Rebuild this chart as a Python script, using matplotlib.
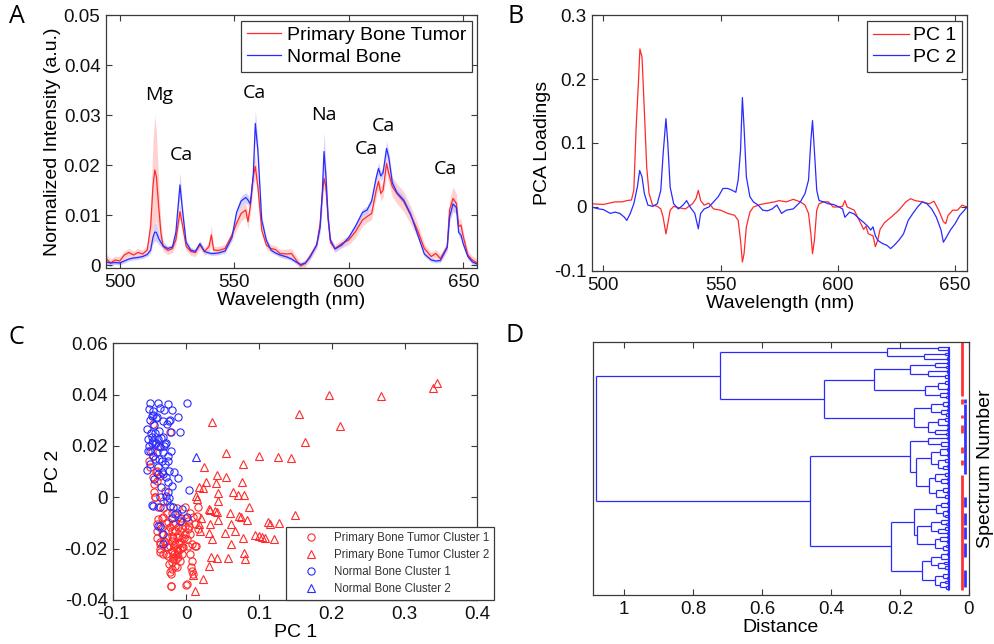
import numpy as np
import matplotlib
matplotlib.use('Agg')
import matplotlib.pyplot as plt
from matplotlib.collections import LineCollection

plt.rcParams['font.family'] = ['Liberation Sans', 'DejaVu Sans']

# ---------------- Panel A data: mean spectra and std ----------------
wavelength = [494, 496, 498, 500, 502, 504, 506, 508, 510, 512,
              513.5, 514.5, 515.3, 516, 517, 518, 519, 521, 523, 524.5,
              526.3, 527.5, 529, 531, 533, 535, 537, 539, 540, 541,
              543, 546, 549, 551, 553, 555, 556, 557, 558.3, 559.2,
              560.3, 562, 564, 566, 568, 570, 573, 575, 577, 579,
              581, 583, 586, 587.5, 588.5, 589.2, 590, 591, 592, 594,
              597, 600, 603, 606, 608, 610, 612, 613, 614, 615,
              616.5, 617.5, 619, 621, 624, 627, 630, 633, 636, 638,
              640, 643, 644, 645.5, 647, 648, 649, 650, 652, 654, 656]

normal_mean = [0.0006, 0.0004, 0.0005, 0.0004, 0.0008, 0.0012, 0.0014, 0.0015, 0.0017, 0.0021,
               0.003, 0.0055, 0.0066, 0.0065, 0.0053, 0.0045, 0.0038, 0.0033, 0.0036, 0.0065,
               0.016, 0.0105, 0.0045, 0.003, 0.0027, 0.0043, 0.0027, 0.0024, 0.0023, 0.0023,
               0.0024, 0.0028, 0.0055, 0.0105, 0.0128, 0.0135, 0.013, 0.0122, 0.018, 0.0283,
               0.023, 0.009, 0.005, 0.003, 0.0024, 0.002, 0.0016, 0.0012, 0.0006, 0.0001,
               0.0004, 0.0015, 0.004, 0.0075, 0.015, 0.0227, 0.018, 0.0095, 0.005, 0.0032,
               0.004, 0.0055, 0.0078, 0.0105, 0.011, 0.0128, 0.0175, 0.0193, 0.0178, 0.0185,
               0.0233, 0.0215, 0.0165, 0.0145, 0.013, 0.0102, 0.0062, 0.0022, 0.001, 0.0008,
               0.0009, 0.0035, 0.0095, 0.0122, 0.0115, 0.0065, 0.006, 0.0042, 0.0017, 0.0006, 0.0002]

tumor_mean = [0.0013, 0.0004, 0.001, 0.0008, 0.002, 0.0025, 0.002, 0.0025, 0.0022, 0.003,
              0.0077, 0.0157, 0.019, 0.0177, 0.0117, 0.0063, 0.0037, 0.0029, 0.0033, 0.005,
              0.0107, 0.0077, 0.0037, 0.0027, 0.0025, 0.004, 0.0027, 0.0037, 0.006, 0.003,
              0.0029, 0.0033, 0.006, 0.0083, 0.0103, 0.011, 0.0087, 0.0117, 0.0177, 0.0197,
              0.0157, 0.007, 0.004, 0.0033, 0.0031, 0.0023, 0.0022, 0.0023, 0.001, -0.0002,
              0.0003, 0.0017, 0.004, 0.0083, 0.0143, 0.0173, 0.0157, 0.009, 0.0045, 0.0033,
              0.0043, 0.005, 0.0067, 0.009, 0.0097, 0.0103, 0.015, 0.0167, 0.0143, 0.015,
              0.0203, 0.0183, 0.0157, 0.0143, 0.0127, 0.01, 0.007, 0.0033, 0.0017, 0.0023,
              0.0013, 0.0037, 0.011, 0.0133, 0.0123, 0.0077, 0.008, 0.0057, 0.002, 0.001, 0.0004]

tumor_std = [0.001, 0.0008, 0.0008, 0.0008, 0.0008, 0.0008, 0.0008, 0.0008, 0.0008, 0.0008,
             0.004, 0.009, 0.011, 0.009, 0.005, 0.002, 0.001, 0.0008, 0.0008, 0.001,
             0.0015, 0.001, 0.0008, 0.0008, 0.0008, 0.0008, 0.0008, 0.001, 0.002, 0.0008,
             0.0008, 0.0008, 0.001, 0.0012, 0.0015, 0.0015, 0.0015, 0.0015, 0.002, 0.0025,
             0.002, 0.001, 0.0008, 0.0008, 0.0008, 0.0008, 0.001, 0.001, 0.0008, 0.0008,
             0.0008, 0.0008, 0.0008, 0.001, 0.0015, 0.002, 0.0015, 0.001, 0.0008, 0.0008,
             0.0008, 0.001, 0.0012, 0.0012, 0.0012, 0.0012, 0.0015, 0.0015, 0.0015, 0.0015,
             0.002, 0.002, 0.002, 0.002, 0.002, 0.0018, 0.0015, 0.001, 0.0008, 0.0008,
             0.0008, 0.001, 0.002, 0.0023, 0.002, 0.0015, 0.0012, 0.001, 0.0008, 0.0008, 0.0008]

normal_std = [0.0004, 0.0004, 0.0004, 0.0004, 0.0004, 0.0004, 0.0004, 0.0004, 0.0004, 0.0004,
              0.0006, 0.0012, 0.0018, 0.0018, 0.0012, 0.0008, 0.0006, 0.0005, 0.0005, 0.0008,
              0.0025, 0.0012, 0.0006, 0.0005, 0.0004, 0.0005, 0.0004, 0.0004, 0.0004, 0.0004,
              0.0004, 0.0004, 0.0006, 0.0008, 0.001, 0.001, 0.001, 0.001, 0.0015, 0.0027,
              0.002, 0.0008, 0.0005, 0.0004, 0.0004, 0.0004, 0.0004, 0.0004, 0.0004, 0.0004,
              0.0004, 0.0004, 0.0005, 0.001, 0.003, 0.004, 0.002, 0.001, 0.0006, 0.0005,
              0.0005, 0.0005, 0.0006, 0.0007, 0.0008, 0.0008, 0.001, 0.0012, 0.001, 0.001,
              0.0015, 0.0012, 0.001, 0.0008, 0.0008, 0.0008, 0.0006, 0.0005, 0.0004, 0.0004,
              0.0004, 0.0005, 0.001, 0.0015, 0.0012, 0.0008, 0.0008, 0.0006, 0.0005, 0.0004, 0.0004]

peak_labels = ['Mg', 'Ca', 'Ca', 'Na', 'Ca', 'Ca', 'Ca']
peak_label_x = [517.2, 527.1, 558.8, 589.0, 607.5, 614.9, 642.0]
peak_label_y = [0.0339, 0.0219, 0.0343, 0.0300, 0.0231, 0.0278, 0.0191]

# ---------------- Panel B data: PCA loadings ----------------
pc1_wl = [495, 500, 505, 508, 510, 512, 513, 514, 515, 515.6, 516.5, 517.5, 518.5, 519.5, 521,
          523, 524.5, 525.5, 526.7, 527.5, 528.5, 530, 532, 535, 538, 539.5, 540.5, 541.5, 543,
          545, 547, 550, 553, 556, 557.5, 558.5, 559.3, 560, 561, 562.5, 564, 567, 570, 573,
          575, 578, 581, 584, 586, 587.5, 588.5, 589.2, 590, 591, 592, 594, 596, 598, 600,
          602, 603, 604, 607, 609, 611, 612, 613, 615, 616, 617, 618, 620, 623, 626, 629,
          631, 633, 636, 639, 641, 643, 645, 646, 647, 649, 651, 653, 655]
pc1 = [0.005, 0.004, 0.008, 0.008, 0.010, 0.011, 0.026, 0.125, 0.197, 0.247, 0.234, 0.15, 0.062, 0.021, 0.003,
       0.001, -0.003, -0.016, -0.042, -0.026, -0.005, 0.001, -0.001, -0.003, 0.005, 0.013, 0.026, 0.010, 0.003,
       0.006, -0.003, -0.005, -0.010, -0.013, -0.021, -0.052, -0.086, -0.073, -0.031, -0.008, 0.0, 0.004, 0.006, 0.008,
       0.010, 0.008, 0.012, 0.008, 0.003, -0.010, -0.042, -0.073, -0.052, -0.005, 0.005, 0.008, 0.008, 0.0, 0.0,
       0.001, 0.010, 0.0, -0.005, -0.020, -0.035, -0.030, -0.042, -0.045, -0.062, -0.052, -0.035, -0.024, -0.015, -0.005, 0.008,
       0.013, 0.010, 0.008, 0.005, 0.009, -0.005, -0.023, -0.026, -0.013, -0.005, -0.005, 0.003, 0.0]

pc2_wl = [495, 498, 500, 503, 505, 507, 509, 510, 511.5, 513, 514.5, 515.5, 516.5, 517.5, 519,
          521, 523, 524.5, 525.5, 526.7, 527.5, 528.5, 530, 532, 534, 535.5, 537, 539, 540.5,
          541.5, 543, 545, 547, 549, 551, 553, 555, 556.5, 557.5, 558.5, 559.3, 560, 561, 562.5,
          564, 566, 568, 570, 572, 574, 576, 578, 581, 584, 586, 587.5, 588.5, 589.2, 590, 591,
          592, 594, 596, 598, 600, 602, 603, 605, 607, 609, 611, 613, 614, 615, 616, 617, 619,
          621, 622.5, 624, 626, 628, 630, 632, 634, 636, 638, 640, 642, 644, 645, 646, 648, 650,
          652, 654, 655]
pc2 = [0.0, -0.003, -0.004, -0.010, -0.008, -0.010, -0.016, -0.021, -0.010, 0.005, 0.031, 0.057, 0.047, 0.021, 0.003,
       0.001, 0.005, 0.026, 0.083, 0.138, 0.099, 0.031, 0.005, -0.003, 0.003, 0.010, 0.0, -0.010, -0.034,
       -0.010, -0.003, 0.0, 0.008, 0.016, 0.029, 0.029, 0.026, 0.023, 0.042, 0.088, 0.171, 0.125, 0.047, 0.016,
       0.008, 0.003, -0.005, -0.006, -0.003, 0.003, -0.010, -0.005, -0.003, 0.008, 0.021, 0.042, 0.104, 0.135, 0.088, 0.026,
       0.010, 0.008, 0.005, 0.004, 0.001, -0.003, -0.016, -0.008, -0.011, -0.018, -0.024, -0.031, -0.036, -0.031, -0.045, -0.052, -0.057,
       -0.060, -0.065, -0.060, -0.052, -0.042, -0.021, -0.010, 0.0, 0.008, 0.005, -0.003, -0.016, -0.036, -0.055, -0.049, -0.036, -0.026,
       -0.013, -0.005, 0.0]

# ---------------- Panel C data: PCA scores ----------------
tumor_c1_pc1 = [-0.0450, -0.0220, -0.0473, -0.0505, -0.0459, -0.0404, -0.0358, -0.0427, -0.0289, -0.0381,
                -0.0312, -0.0243, -0.0174, -0.0106, -0.0060, -0.0014, 0.0032, -0.0404, -0.0335, -0.0266,
                -0.0197, -0.0151, -0.0129, -0.0083, -0.0037, 0.0055, 0.0078, 0.0124, -0.0358, -0.0312,
                -0.0243, -0.0174, -0.0106, -0.0083, -0.0197, -0.0151, 0.0055, 0.0078, -0.0220, -0.0211,
                0.0009, 0.0101, -0.0266, -0.0289, -0.0129, -0.0060, 0.0009, -0.0358, 0.0032, 0.0101,
                0.0147, -0.0381, -0.0014, 0.0170, -0.0106, -0.0197, -0.0243, -0.0106, 0.0078, -0.0358,
                -0.0151, -0.0220, -0.0404, -0.0083, -0.0014, 0.0124, 0.0170, -0.0312, -0.0404, -0.0496,
                -0.0210, -0.0210, 0.0000, 0.0070, 0.0130, -0.0440, -0.0430, -0.0180, -0.0120, -0.0160,
                -0.0100, -0.0200, -0.0060, 0.0000, 0.0050, -0.0280, -0.0330, -0.0200, -0.0140, -0.0050,
                -0.0350, -0.0300, -0.0250, -0.0200, -0.0150, -0.0100, -0.0050, -0.0180, -0.0130, -0.0080,
                -0.0280, -0.0220, -0.0160, -0.0030, 0.0020, -0.0320, -0.0260, -0.0120, -0.0070, 0.0040,
                -0.0400, -0.0360, -0.0240, -0.0190, -0.0420, -0.0460, -0.0380, -0.0440]
tumor_c1_pc2 = [0.0286, 0.0253, 0.0182, 0.0143, 0.0078, 0.0065, 0.0084, 0.0000, 0.0026, -0.0084,
                -0.0078, -0.0097, -0.0104, -0.0117, -0.0097, -0.0110, -0.0123, -0.0130, -0.0143, -0.0156,
                -0.0169, -0.0182, -0.0156, -0.0175, -0.0195, -0.0143, -0.0182, -0.0188, -0.0214, -0.0221,
                -0.0227, -0.0234, -0.0208, -0.0247, -0.0253, -0.0266, -0.0221, -0.0247, -0.0292, -0.0344,
                -0.0338, -0.0299, -0.0195, -0.0175, -0.0221, -0.0195, -0.0162, -0.0175, -0.0094, -0.0078,
                -0.0071, -0.0039, -0.0039, -0.0039, -0.0078, -0.0130, -0.0195, -0.0234, -0.0286, -0.0182,
                -0.0130, -0.0117, -0.0104, -0.0130, -0.0143, -0.0104, -0.0123, -0.0013, 0.0104, 0.0117,
                -0.0345, -0.0300, -0.0340, -0.0270, -0.0190, 0.0052, 0.0000, -0.0160, -0.0200, -0.0190,
                -0.0150, -0.0210, -0.0120, -0.0080, -0.0060, -0.0100, -0.0080, -0.0060, -0.0240, -0.0160,
                -0.0120, -0.0170, -0.0130, -0.0150, -0.0100, -0.0180, -0.0220, -0.0240, -0.0270, -0.0200,
                -0.0220, -0.0190, -0.0220, -0.0160, -0.0190, -0.0040, -0.0060, -0.0040, -0.0080, -0.0110,
                -0.0160, -0.0200, -0.0260, -0.0280, 0.0100, 0.0160, 0.0200, 0.0020]

tumor_c2_pc1 = [0.345, 0.339, 0.268, 0.196, 0.155, 0.212, 0.164, 0.035, 0.055, 0.0995,
                0.126, 0.144, 0.078, 0.024, 0.042, 0.055, 0.027, 0.041, 0.077, 0.018,
                0.023, 0.044, 0.064, 0.071, 0.080, 0.015, 0.031, 0.044, 0.040, 0.043,
                0.060, 0.086, 0.075, 0.084, 0.149, 0.115, 0.128, 0.018, 0.033, 0.044,
                0.061, 0.019, 0.031, 0.054, 0.067, 0.0995, 0.109, 0.121, 0.035, 0.061,
                0.078, 0.080, 0.081, 0.034, 0.042, 0.057, 0.031, 0.009, 0.023, 0.012,
                0.0136, 0.033, 0.073, 0.095, 0.104, 0.112, 0.020]
tumor_c2_pc2 = [0.0445, 0.0427, 0.0393, 0.0400, 0.0325, 0.0276, 0.0215, 0.0295, 0.0172, 0.0160,
                0.0156, 0.0153, 0.0130, 0.0117, 0.0087, 0.0081, 0.0061, 0.0055, 0.0059, 0.0039,
                0.0036, 0.0016, 0.0022, 0.0009, 0.0009, -0.0006, -0.0046, -0.0013, -0.0052, -0.0059,
                -0.0062, -0.0036, -0.0078, -0.0088, -0.0068, -0.0104, -0.0101, -0.0104, -0.0104, -0.0088,
                -0.0104, -0.0133, -0.0140, -0.0140, -0.0133, -0.0151, -0.0159, -0.0164, -0.0164, -0.0180,
                -0.0160, -0.0215, -0.0240, -0.0231, -0.0237, -0.0237, -0.0267, -0.0302, -0.0319, -0.0364,
                0.0005, -0.0050, -0.0072, -0.0145, -0.0155, -0.0097, -0.0080]

normal_c1_pc1 = [-0.0496, -0.0381, -0.0243, 0.0018, -0.0505, -0.0450, -0.0358, -0.0303, -0.0197, -0.0106,
                 -0.0473, -0.0404, -0.0312, -0.0230, -0.0207, -0.0083, -0.0519, -0.0473, -0.0450, -0.0381,
                 -0.0312, -0.0505, -0.0427, -0.0358, -0.0289, -0.0496, -0.0404, -0.0312, -0.0211, -0.0427,
                 -0.0335, -0.0243, -0.0542, -0.0381, -0.0335, -0.0312, -0.0230, -0.0106, -0.0243, -0.0197,
                 0.0046, -0.0358, -0.0275, -0.0230, -0.0450, -0.0358, -0.0174, -0.0060, 0.0009, -0.0083,
                 -0.0358, -0.0312, -0.0321, -0.0220, -0.0151, -0.0243, -0.0266, -0.0459, -0.0367, -0.0266,
                 -0.0532, -0.0480, -0.0440, -0.0500, -0.0410, -0.0370, -0.0290, -0.0270, -0.0440, -0.0470,
                 -0.0340, -0.0200, -0.0120, -0.0390, -0.0160, -0.0420, -0.0220,
                 -0.0500, -0.0460, -0.0520, -0.0470, -0.0430, -0.0350, -0.0300, -0.0390, -0.0280, -0.0250]
normal_c1_pc2 = [0.0366, 0.0366, 0.0364, 0.0368, 0.0344, 0.0338, 0.0348, 0.0340, 0.0340, 0.0312,
                 0.0318, 0.0312, 0.0299, 0.0296, 0.0253, 0.0253, 0.0227, 0.0234, 0.0221, 0.0227,
                 0.0234, 0.0201, 0.0208, 0.0195, 0.0208, 0.0182, 0.0175, 0.0175, 0.0179, 0.0149,
                 0.0143, 0.0143, 0.0108, 0.0120, 0.0097, 0.0091, 0.0104, 0.0075, 0.0058, 0.0045,
                 0.0030, 0.0003, 0.0006, -0.0003, -0.0032, -0.0036, -0.0039, -0.0045, -0.0075, -0.0094,
                 -0.0110, -0.0143, -0.0182, -0.0032, -0.0065, 0.0022, -0.0013, 0.0162, 0.0260, 0.0286,
                 0.0266, 0.0250, 0.0280, 0.0130, 0.0210, 0.0150, 0.0130, 0.0210, 0.0070, -0.0030,
                 0.0040, -0.0080, -0.0060, -0.0110, 0.0100, 0.0310, 0.0300,
                 0.0300, 0.0320, 0.0180, 0.0210, 0.0250, 0.0230, 0.0200, 0.0090, 0.0080, 0.0160]

normal_c2_pc1 = [0.0138]
normal_c2_pc2 = [0.0156]

# ---------------- Panel D data: hierarchical clustering ----------------
# node = [merge distance, upper child, lower child]; 0 = leaf
A1 = [0.237, [0.09, 0, [0.062, 0, 0]], [0.13, [0.07, 0, 0], [0.064, 0, 0]]]
A2a = [0.276, [0.17, [0.10, [0.063, 0, 0], [0.066, 0, 0]], [0.12, [0.064, 0, 0], [0.07, 0, [0.061, 0, 0]]]],
       [0.127, [0.09, [0.07, 0, [0.061, 0, 0]], [0.063, 0, 0]], [0.085, [0.064, 0, 0], [0.067, 0, 0]]]]
A2b = [0.16, [0.11, [0.075, [0.062, 0, 0], [0.064, 0, 0]], [0.08, [0.063, 0, 0], [0.066, 0, 0]]],
       [0.12, [0.09, [0.07, 0, [0.062, 0, 0]], [0.064, 0, 0]], [0.10, [0.063, 0, 0], [0.066, 0, 0]]]]
B1 = [0.17, [0.12, [0.064, 0, 0], [0.08, [0.062, 0, 0], 0]],
      [0.155, [0.11, [0.085, [0.065, 0, [0.061, 0, 0]], [0.063, 0, 0]], [0.09, [0.07, 0, [0.062, 0, 0]], [0.075, [0.063, 0, 0], 0]]],
              [0.115, [0.10, [0.07, [0.062, 0, 0], 0], [0.08, [0.064, 0, 0], [0.065, 0, 0]]],
                      [0.095, [0.075, [0.062, 0, 0], [0.063, 0, 0]], [0.07, 0, [0.061, 0, 0]]]]]]
B2 = [0.225,
      [0.16, [0.095, [0.08, [0.065, 0, 0], [0.062, 0, 0]], [0.075, [0.063, 0, 0], [0.07, 0, 0]]],
             [0.15, [0.11, [0.08, [0.062, 0, 0], [0.066, 0, 0]], [0.09, [0.07, 0, 0], [0.063, 0, 0]]],
                    [0.10, [0.085, [0.063, 0, 0], [0.065, 0, 0]], [0.075, [0.068, 0, 0], [0.062, 0, 0]]]]],
      [0.136, [0.11, [0.08, [0.065, 0, 0], [0.062, 0, 0]], [0.09, [0.072, 0, 0], [0.07, 0, [0.061, 0, 0]]]],
              [0.10, [0.075, [0.062, 0, 0], [0.065, 0, 0]], [0.085, [0.07, 0, 0], [0.068, 0, [0.061, 0, 0]]]]]]
tree = [1.081, [0.721, A1, [0.421, A2a, A2b]], [0.46, B1, B2]]
leaf_distance = 0.058
# class membership bars (fraction of the leaf span, top = 0)
tumor_runs = [(-0.018, 0.201), (0.214, 0.235), (0.280, 0.293), (0.321, 0.354),
              (0.411, 0.437), (0.465, 0.486), (0.527, 1.0)]
normal_runs = [(0.214, 0.231), (0.235, 0.523), (0.618, 0.659), (0.683, 0.732),
               (0.741, 0.790), (0.807, 0.865), (0.918, 0.989)]

# ---------------- styling helpers ----------------
RED = '#ff2a2a'
BLUE = '#2a2aff'
FRAME = '#3a3a3a'
TICK_FS = 13.5
LABEL_FS = 14

fig = plt.figure(figsize=(9.95, 6.44), dpi=100)
W, H = 995.0, 644.0


def add_axes(l, t, r, b):
    return fig.add_axes([l / W, 1 - b / H, (r - l) / W, (b - t) / H])


def style(ax, mirror=True):
    for s in ax.spines.values():
        s.set_color(FRAME)
        s.set_linewidth(0.9)
    ax.tick_params(direction='in', length=4, width=0.8, colors=FRAME,
                   labelcolor='#111111', labelsize=TICK_FS, pad=4,
                   top=mirror, right=mirror)


# ---------------- Panel A ----------------
axA = add_axes(106, 15, 477, 268)
wl = np.array(wavelength)
tm, ts = np.array(tumor_mean), np.array(tumor_std)
nm_, ns = np.array(normal_mean), np.array(normal_std)
axA.fill_between(wl, tm - ts, tm + ts, color='#ffc4c4', alpha=0.75, lw=0)
axA.fill_between(wl, nm_ - ns, nm_ + ns, color='#c4c4ff', alpha=0.75, lw=0)
axA.plot(wl, tm, color=RED, lw=0.9, label='Primary Bone Tumor')
axA.plot(wl, nm_, color=BLUE, lw=0.9, label='Normal Bone')
axA.set_xlim(494, 656)
axA.set_ylim(-0.0006, 0.05)
axA.set_xticks([500, 550, 600, 650])
axA.set_yticks([0, 0.01, 0.02, 0.03, 0.04, 0.05])
axA.set_yticklabels(['0', '0.01', '0.02', '0.03', '0.04', '0.05'])
style(axA)
axA.set_xlabel('Wavelength (nm)', fontsize=LABEL_FS, labelpad=1)
axA.set_ylabel('Normalized Intensity (a.u.)', fontsize=LABEL_FS, labelpad=2)
for t, x, y in zip(peak_labels, peak_label_x, peak_label_y):
    axA.text(x, y, t, ha='center', va='center', fontsize=14, family=['Open Sans', 'DejaVu Sans'])
legA = axA.legend(loc='upper right', bbox_to_anchor=(0.9865, 0.977), fontsize=14, fancybox=False,
                  edgecolor=FRAME, framealpha=1, handlelength=1.75, handletextpad=0.3,
                  borderpad=0.3, labelspacing=0.2, borderaxespad=0)
legA.get_frame().set_linewidth(0.9)

# ---------------- Panel B ----------------
axB = add_axes(592.3, 15, 967.3, 271)
axB.plot(pc1_wl, pc1, color=RED, lw=0.9, label='PC 1')
axB.plot(pc2_wl, pc2, color=BLUE, lw=0.9, label='PC 2')
axB.set_xlim(495.3, 655.2)
axB.set_ylim(-0.1, 0.3)
axB.set_xticks([500, 550, 600, 650])
axB.set_yticks([-0.1, 0, 0.1, 0.2, 0.3])
axB.set_yticklabels(['-0.1', '0', '0.1', '0.2', '0.3'])
style(axB)
axB.set_xlabel('Wavelength (nm)', fontsize=LABEL_FS, labelpad=1)
axB.set_ylabel('PCA Loadings', fontsize=LABEL_FS, labelpad=2)
legB = axB.legend(loc='upper right', bbox_to_anchor=(0.987, 0.977), fontsize=14, fancybox=False,
                  edgecolor=FRAME, framealpha=1, handlelength=1.9, handletextpad=0.2,
                  borderpad=0.3, labelspacing=0.2, borderaxespad=0)
legB.get_frame().set_linewidth(0.9)

# ---------------- Panel C ----------------
axC = add_axes(113.3, 343.3, 477.3, 600)
mk = dict(linestyle='none', markerfacecolor='none', markersize=5.2, markeredgewidth=0.8)
axC.plot(tumor_c1_pc1, tumor_c1_pc2, marker='o', markeredgecolor=RED, label='Primary Bone Tumor Cluster 1', **mk)
axC.plot(tumor_c2_pc1, tumor_c2_pc2, marker='^', markeredgecolor=RED, label='Primary Bone Tumor Cluster 2', **mk)
axC.plot(normal_c1_pc1, normal_c1_pc2, marker='o', markeredgecolor=BLUE, label='Normal Bone Cluster 1', **mk)
axC.plot(normal_c2_pc1, normal_c2_pc2, marker='^', markeredgecolor=BLUE, label='Normal Bone Cluster 2', **mk)
axC.set_xlim(-0.1, 0.4)
axC.set_ylim(-0.04, 0.06)
axC.set_xticks([-0.1, 0, 0.1, 0.2, 0.3, 0.4])
axC.set_xticklabels(['-0.1', '0', '0.1', '0.2', '0.3', '0.4'])
axC.set_yticks([-0.04, -0.02, 0, 0.02, 0.04, 0.06])
axC.set_yticklabels(['-0.04', '-0.02', '0', '0.02', '0.04', '0.06'])
style(axC)
axC.set_xlabel('PC 1', fontsize=LABEL_FS, labelpad=1)
axC.set_ylabel('PC 2', fontsize=LABEL_FS, labelpad=2)
legC = axC.legend(loc='lower right', bbox_to_anchor=(1.046, 0.0), fontsize=8.3, fancybox=False,
                  edgecolor=FRAME, framealpha=1, handlelength=3.4, handletextpad=0.3,
                  borderpad=0.45, labelspacing=0.42, borderaxespad=0)
legC.get_frame().set_linewidth(0.9)
for t in legC.get_texts():
    t.set_color('#333333')

# ---------------- Panel D ----------------
axD = add_axes(592.7, 342.3, 969, 595)
segs = []
counter = [0]


def walk(node):
    if not isinstance(node, list):
        y = counter[0]
        counter[0] += 1
        return y, leaf_distance
    h, a, b = node
    ya, ha = walk(a)
    yb, hb = walk(b)
    segs.append([(ha, ya), (h, ya)])
    segs.append([(hb, yb), (h, yb)])
    segs.append([(h, ya), (h, yb)])
    return (ya + yb) / 2.0, h


walk(tree)
n_leaves = counter[0]
span = n_leaves - 1
axD.add_collection(LineCollection(segs, colors=BLUE, linewidths=0.9))
axD.vlines(leaf_distance, 0, span, colors=BLUE, linewidth=1.6)
for s, e in tumor_runs:
    axD.vlines(0.021, s * span, e * span, colors='#ff3333', linewidth=2.0)
for s, e in normal_runs:
    axD.vlines(0.0115, s * span, e * span, colors='#3333ff', linewidth=2.0)
pad_top = 0.018 * span
pad_bot = 0.021 * span
axD.set_xlim(1.091, 0)
axD.set_ylim(span + pad_bot, -pad_top)
axD.set_xticks([1, 0.8, 0.6, 0.4, 0.2, 0])
axD.set_xticklabels(['1', '0.8', '0.6', '0.4', '0.2', '0'])
axD.set_yticks([])
style(axD)
axD.tick_params(axis='y', left=False, right=False)
axD.set_xlabel('Distance', fontsize=LABEL_FS, labelpad=1)
axD.yaxis.set_label_position('right')
axD.set_ylabel('Spectrum Number', fontsize=LABEL_FS, labelpad=6)

# ---------------- panel letters ----------------
for letter, x, y in [('A', 9, 4), ('B', 507, 4), ('C', 9, 325), ('D', 506, 323)]:
    fig.text(x / W, 1 - y / H, letter, ha='left', va='top', fontsize=18,
             family=['Open Sans', 'DejaVu Sans'])

fig.savefig('out.png', dpi=100)
